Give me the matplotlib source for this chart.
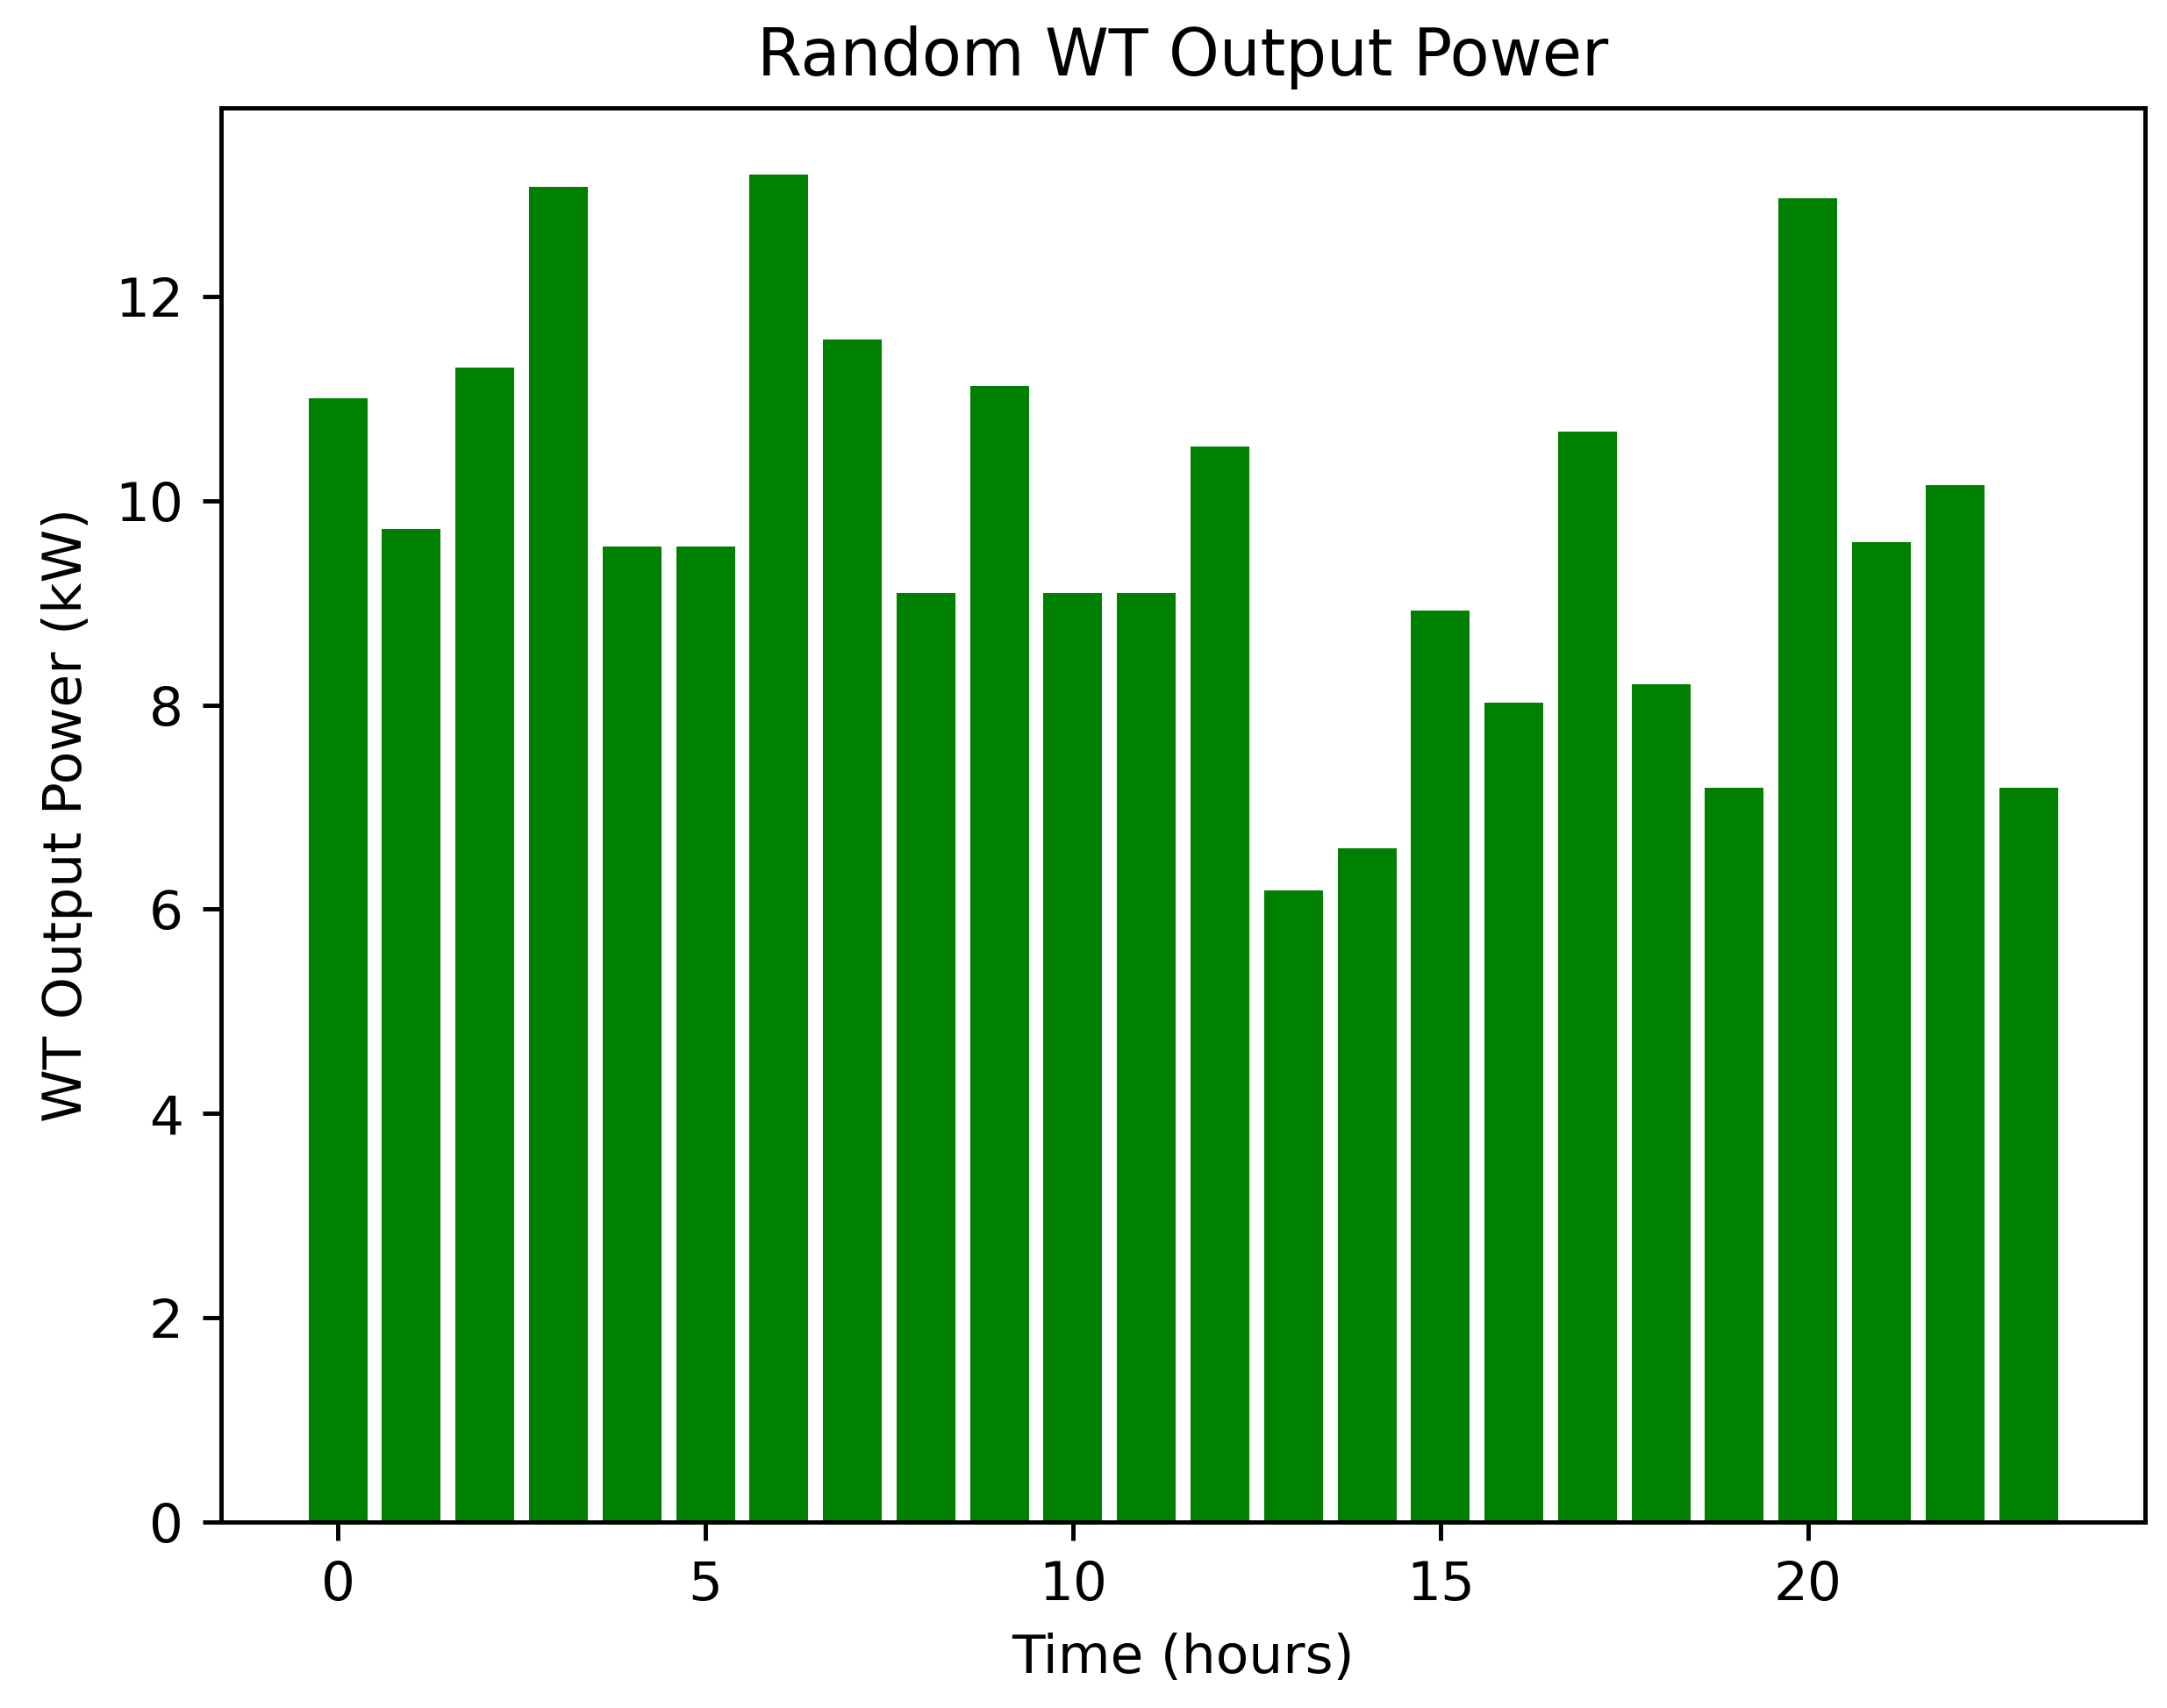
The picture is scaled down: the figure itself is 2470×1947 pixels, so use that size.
import matplotlib
matplotlib.use("Agg")
import matplotlib.pyplot as plt

hours = list(range(24))
power = [11.0, 9.72, 11.3, 13.07, 9.55, 9.55, 13.19, 11.58, 9.1, 11.12, 9.1, 9.1,
         10.53, 6.18, 6.6, 8.92, 8.02, 10.68, 8.2, 7.19, 12.96, 9.59, 10.15, 7.19]

W, H = 2470, 1947
dpi = 442
fig = plt.figure(figsize=(W / dpi, H / dpi), dpi=dpi)
ax = fig.add_axes([0.102, 0.109, 0.888, 0.828])
ax.bar(hours, power, color='green')
ax.set_title('Random WT Output Power')
ax.set_xlabel('Time (hours)')
ax.set_ylabel('WT Output Power (kW)')
fig.savefig('out.png', dpi=dpi)
